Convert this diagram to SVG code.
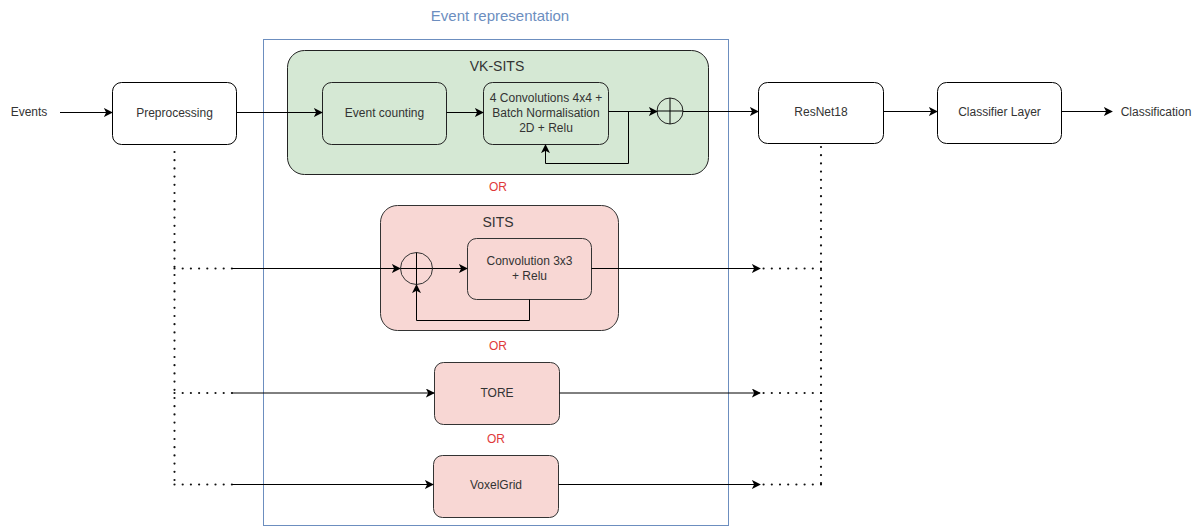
<svg xmlns="http://www.w3.org/2000/svg" width="1204" height="527" viewBox="0 0 1204 527">
<defs>
<marker id="arr" viewBox="0 0 10 10" refX="9" refY="5" markerWidth="9" markerHeight="9" markerUnits="userSpaceOnUse" orient="auto">
<path d="M0,0 L10,5 L0,10 L2.5,5 Z" fill="#000"/>
</marker>
<style>
text{font-family:"Liberation Sans",Arial,sans-serif;font-size:12px;fill:#333;text-anchor:middle}
.box{fill:#fff;stroke:#000;stroke-width:1}
.green{fill:#d5e8d4;stroke:#222;stroke-width:1}
.pink{fill:#f8d7d4;stroke:#333;stroke-width:1}
.ln{fill:none;stroke:#000;stroke-width:1}
.arw{fill:none;stroke:#000;stroke-width:1;marker-end:url(#arr)}
.dot{fill:none;stroke:#111;stroke-width:2.2;stroke-dasharray:0 8.2;stroke-linecap:round}
.or{fill:#e03a3a}
.big{font-size:14px}
</style>
</defs>
<rect width="1204" height="527" fill="#fff"/>

<g id="event-representation">
<rect x="263.5" y="39.5" width="465" height="486" fill="none" stroke="#6c8ebf" stroke-width="1"/>
<text x="500" y="21" class="big" style="fill:#6c8ebf;font-size:15px">Event representation</text>
</g>

<g id="vk-sits">
<rect x="287.5" y="50.5" width="421" height="124" rx="17" class="green"/>
<text x="497" y="71" class="big">VK-SITS</text>
</g>
<g id="sits">
<rect x="380.5" y="205.5" width="238" height="125" rx="17" class="pink"/>
<text x="498" y="227" class="big">SITS</text>
</g>

<g id="events"><text x="29" y="116">Events</text></g>
<g id="preprocessing">
<rect x="112.5" y="82.5" width="124" height="62" rx="9" class="box"/>
<text x="174.5" y="117">Preprocessing</text>
</g>
<g id="event-counting">
<rect x="322.5" y="82.5" width="124" height="62" rx="9" class="green"/>
<text x="384.5" y="117">Event counting</text>
</g>
<g id="conv4x4">
<rect x="483.5" y="82.5" width="125" height="62" rx="9" class="green"/>
<text x="546" y="102">4 Convolutions 4x4 +</text>
<text x="546" y="117">Batch Normalisation</text>
<text x="546" y="132">2D + Relu</text>
</g>
<g id="sum1">
<circle cx="670" cy="111" r="13" fill="none" stroke="#222" stroke-width="1"/>
<path d="M657,111 H683 M670,98 V124" class="ln"/>
</g>
<g id="resnet18">
<rect x="758.5" y="82.5" width="125" height="61" rx="9" class="box"/>
<text x="821" y="116">ResNet18</text>
</g>
<g id="classifier-layer">
<rect x="937.5" y="82.5" width="124" height="61" rx="9" class="box"/>
<text x="999.5" y="116">Classifier Layer</text>
</g>
<g id="classification"><text x="1156" y="116">Classification</text></g>

<g id="sum2">
<circle cx="416.5" cy="268.5" r="16" fill="none" stroke="#333" stroke-width="1"/>
<path d="M400.5,268.5 H432.5 M416.5,252.5 V284.5" class="ln"/>
</g>
<g id="conv3x3">
<rect x="467.5" y="238.5" width="124" height="61" rx="9" class="pink"/>
<text x="529.5" y="265">Convolution 3x3</text>
<text x="529.5" y="280">+ Relu</text>
</g>
<g id="tore">
<rect x="434.5" y="362.5" width="125" height="62" rx="9" class="pink"/>
<text x="497" y="397">TORE</text>
</g>
<g id="voxelgrid">
<rect x="433.5" y="455.5" width="125" height="62" rx="9" class="pink"/>
<text x="496" y="489">VoxelGrid</text>
</g>

<g id="or-labels">
<text x="498" y="191" class="or">OR</text>
<text x="498" y="350" class="or">OR</text>
<text x="496" y="443" class="or">OR</text>
</g>

<g id="connectors">
<path d="M60,112.5 H112" class="arw"/>
<path d="M236.5,112.5 H322" class="arw"/>
<path d="M446.5,112.5 H483" class="arw"/>
<path d="M608.5,111.5 H657" class="arw"/>
<path d="M628.5,111.5 V163.5 H545.5 V145" class="arw"/>
<path d="M683,111.5 H758" class="arw"/>
<path d="M883.5,111.5 H937" class="arw"/>
<path d="M1061.5,111.5 H1112" class="arw"/>

<path d="M174.5,152 V484.5" class="dot"/>
<path d="M174.5,268.5 H232" class="dot"/>
<path d="M174.5,393 H232" class="dot"/>
<path d="M174.5,484.5 H232" class="dot"/>
<path d="M232,268.5 H400" class="arw"/>
<path d="M432.5,268.5 H467" class="arw"/>
<path d="M529.5,299.5 V320.5 H416.5 V285" class="arw"/>
<path d="M232,393 H434" class="arw"/>
<path d="M232,484.5 H433" class="arw"/>

<path d="M591.5,268.5 H760" class="arw"/>
<path d="M559.5,393 H760" class="arw"/>
<path d="M558.5,484.5 H760" class="arw"/>
<path d="M821,147 V484.5" class="dot"/>
<path d="M821,268.5 H762" class="dot"/>
<path d="M821,393 H762" class="dot"/>
<path d="M821,484.5 H762" class="dot"/>
</g>
</svg>
